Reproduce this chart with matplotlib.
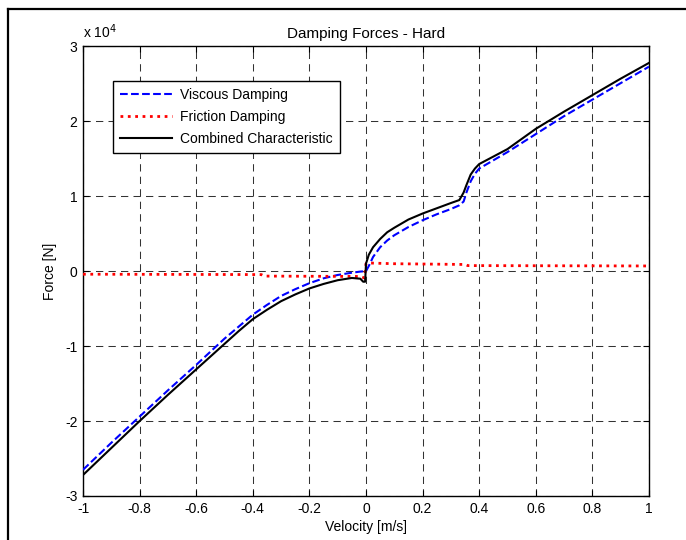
import matplotlib
matplotlib.use('Agg')  # Use non-interactive backend
import matplotlib.pyplot as plt
from matplotlib.lines import Line2D
from matplotlib.ticker import FuncFormatter

plt.rcParams['font.family'] = ['Liberation Sans', 'DejaVu Sans']

# viscous damping (blue dashed), force in N
v_visc = [-1.0, -0.9, -0.8, -0.7, -0.6, -0.5, -0.45, -0.4, -0.35, -0.3, -0.25,
          -0.2, -0.15, -0.1, -0.05, -0.02, -0.005, 0.0, 0.01, 0.025, 0.05,
          0.075, 0.1, 0.15, 0.2, 0.25, 0.3, 0.33, 0.345, 0.355, 0.37, 0.385,
          0.4, 0.45, 0.5, 0.6, 0.7, 0.8, 0.9, 1.0]
f_visc = [-26500, -22900, -19400, -15900, -12500, -9000, -7400, -5800, -4500,
          -3300, -2400, -1600, -950, -500, -200, -50, 0, 0, 700, 1900, 3200,
          4100, 4800, 5900, 6800, 7600, 8300, 8800, 9300, 10500, 12000, 13000,
          13700, 14800, 15900, 18300, 20700, 22900, 25100, 27300]

# friction damping (red dotted)
v_fric = [-1.0, -0.37, -0.36, -0.02, -0.005, 0.0, 0.005, 0.1, 0.35, 0.36, 1.0]
f_fric = [-400, -450, -650, -700, -900, 1000, 1100, 1000, 900, 750, 700]

# combined characteristic (black solid)
v_comb = [-1.0, -0.9, -0.8, -0.7, -0.6, -0.5, -0.45, -0.4, -0.35, -0.3, -0.25,
          -0.2, -0.15, -0.1, -0.05, -0.02, -0.01, -0.003, 0.0, 0.01, 0.025,
          0.05, 0.075, 0.1, 0.15, 0.2, 0.25, 0.3, 0.33, 0.345, 0.355, 0.37,
          0.385, 0.4, 0.45, 0.5, 0.6, 0.7, 0.8, 0.9, 1.0]
f_comb = [-27200, -23600, -20000, -16500, -13100, -9700, -8000, -6400, -5150,
          -4000, -3100, -2300, -1700, -1200, -900, -1000, -1400, -1400, 1000,
          2200, 3200, 4300, 5200, 5800, 6900, 7700, 8400, 9100, 9500, 10500,
          11500, 12900, 13700, 14300, 15300, 16300, 19000, 21300, 23500, 25700,
          27800]

x_ticks = [-1, -0.8, -0.6, -0.4, -0.2, 0, 0.2, 0.4, 0.6, 0.8, 1]
y_ticks = [-30000, -20000, -10000, 0, 10000, 20000, 30000]

fig = plt.figure(figsize=(6.86, 5.40), dpi=100, facecolor='white')
ax = fig.add_axes([0.121, 0.0815, 0.825, 0.8325])

ax.plot(v_visc, f_visc, color='#0000ff', linestyle='--', linewidth=1.5,
        label='Viscous Damping', zorder=3)
ax.plot(v_fric, f_fric, color='#ff0000', linestyle=':', linewidth=2.0,
        label='Friction Damping', zorder=3)
ax.plot(v_comb, f_comb, color='black', linestyle='-', linewidth=1.5,
        label='Combined Characteristic', zorder=4)

ax.set_xlim(-1, 1)
ax.set_ylim(-30000, 30000)
ax.set_xticks(x_ticks)
ax.set_yticks(y_ticks)
ax.xaxis.set_major_formatter(FuncFormatter(lambda x, p: f'{x:g}'))
ax.yaxis.set_major_formatter(FuncFormatter(lambda y, p: f'{y / 1e4:g}'))
ax.tick_params(direction='in', length=4, width=0.8, top=True, right=True,
               labelsize=10, pad=4)
for s in ax.spines.values():
    s.set_linewidth(1.0)
    s.set_color('black')

# MATLAB-style dashed grid
ax.grid(True, color='#333333', linestyle=(0, (7, 5)), linewidth=0.75)
ax.set_axisbelow(True)

ax.set_title('Damping Forces - Hard', fontsize=11, pad=6)
ax.set_xlabel('Velocity [m/s]', fontsize=10, labelpad=3)
ax.set_ylabel('Force [N]', fontsize=10, labelpad=6)
ax.text(0.0, 1.012, r'x 10$^{4}$', transform=ax.transAxes, fontsize=10,
        ha='left', va='bottom')

leg = ax.legend(loc='upper left', bbox_to_anchor=(0.0525, 0.924),
                borderaxespad=0, fontsize=10, handlelength=3.8,
                handletextpad=0.55, labelspacing=0.6, borderpad=0.5,
                fancybox=False, framealpha=1, edgecolor='black')
leg.get_frame().set_linewidth(1.0)

# outer frame lines (top and left) like the screenshot
fig.add_artist(Line2D([8 / 686, 8 / 686], [0, 1 - 9 / 540], color='black',
                      linewidth=1.6, transform=fig.transFigure))
fig.add_artist(Line2D([8 / 686, 1], [1 - 9 / 540, 1 - 9 / 540],
                      color='black', linewidth=1.6, transform=fig.transFigure))

fig.savefig('out.png', dpi=100, facecolor='white')
plt.close(fig)
